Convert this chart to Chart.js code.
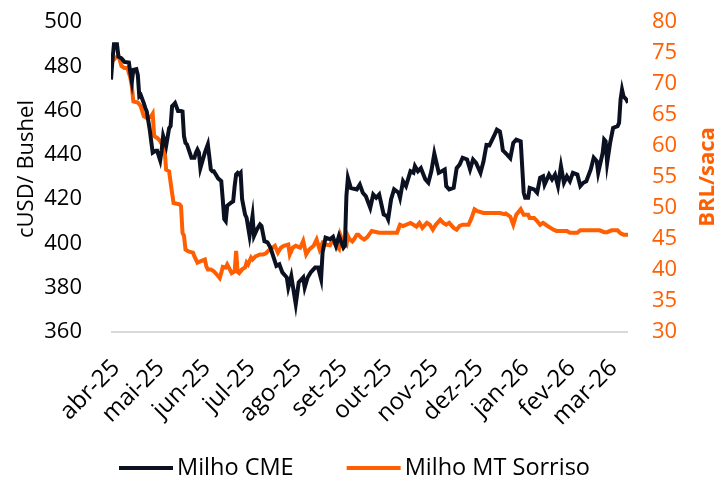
<!DOCTYPE html>
<html>
<head>
<meta charset="utf-8">
<script src="https://cdn.jsdelivr.net/npm/chart.js@4.4.1/dist/chart.umd.min.js"></script>
<style>
  html, body { margin: 0; padding: 0; background: #fff; }
</style>
</head>
<body>
<canvas id="myChart" width="721" height="490"></canvas>
<script>
// days counted from 1 Apr 2025
const monthDay = [0, 30, 61, 91, 122, 153, 183, 214, 244, 275, 306, 334];
const monthLabel = ['abr-25', 'mai-25', 'jun-25', 'jul-25', 'ago-25', 'set-25', 'out-25', 'nov-25', 'dez-25', 'jan-26', 'fev-26', 'mar-26'];

// Milho CME (cUSD/bushel)
const cmeDay = [0, 1, 2, 4, 5, 7, 9, 12, 13, 14, 15, 17, 18, 19, 20, 22, 23, 24, 26, 27, 28, 30, 31, 32, 33, 34, 35, 37, 39, 40,
  41, 42, 43, 45, 47, 48, 49, 50, 51, 54, 56, 57, 58, 59, 60, 63, 65, 67, 68, 69, 72, 74, 75, 76, 77, 78, 81, 82, 83, 84,
  85, 86, 87, 88, 90, 91, 93, 95, 96, 98, 100, 101, 103, 105, 107, 111, 113, 115, 118, 119, 121, 122, 124, 126, 129, 130, 132, 134, 137, 139,
  141, 142, 144, 147, 149, 151, 153, 156, 157, 158, 159, 161, 165, 167, 169, 171, 174, 176, 178, 180, 183, 185, 186, 188, 190, 193, 194, 196, 198, 201,
  203, 204, 206, 208, 211, 213, 215, 217, 220, 222, 224, 225, 227, 230, 232, 234, 236, 239, 241, 243, 245, 248, 250, 252, 254, 257, 259, 261, 262, 263,
  266, 268, 270, 272, 275, 277, 278, 280, 281, 284, 286, 288, 290, 291, 294, 296, 298, 300, 302, 304, 306, 308, 310, 313, 315, 317, 319, 322, 324, 326,
  327, 330, 331, 332, 333, 335, 337, 340, 341, 342, 343, 344, 346, 347];
const cmeValue = [474, 483, 490, 490, 484.4, 483.6, 482, 481.7, 477, 473, 478.4, 478.7, 476, 466.4, 467, 463.4, 461.2, 459.6, 451.4, 446, 441, 441.8, 441.8, 439.6, 437.5, 442, 448.5, 444, 452, 453,
  462, 462.6, 463.4, 459.8, 459.8, 459.6, 448.4, 445.4, 444.7, 438.7, 438.7, 441, 442.4, 441, 434, 441, 444.7, 433.4, 432.6, 432.6, 429.3, 428.2, 420, 411, 410.1, 417, 418.6, 419, 425.9, 431.2,
  431.9, 431.2, 431.9, 420, 413, 411.6, 403.4, 412.4, 403.4, 406.4, 408.6, 407.9, 401, 400.5, 398.1, 389.9, 390.6, 386.9, 384.6, 380.1, 385.3, 381, 372.6, 382.4, 384.6, 380.1, 384.6, 386.9, 389.1, 389.1,
  383.9, 395.9, 402.6, 401.9, 403, 398.9, 403.4, 398.1, 399, 421.4, 429.6, 425, 424.4, 426.6, 422.9, 421.4, 416.1, 422.1, 420.6, 422.1, 413.1, 412.4, 410.9, 420, 424.4, 422.9, 420.6, 428.1, 425.9, 432.6,
  431.9, 434.9, 432.6, 434, 428.9, 427.4, 432.6, 440.6, 431.9, 432.6, 433.4, 425.9, 424.4, 425.1, 434, 435.6, 438.7, 437.9, 433.4, 437.9, 436.4, 431.9, 437, 444.5, 444.3, 448.4, 451.4, 450.6, 446.9, 442,
  440, 438.5, 445.4, 446.9, 446.1, 422.9, 420.6, 420.6, 425.1, 424.4, 422.9, 429.6, 430.3, 426.6, 431.1, 428.9, 431.1, 425.9, 434.9, 427.4, 430.3, 428.1, 431.9, 431.1, 425.9, 427.4, 428.1, 433.4, 438.7, 437.2,
  431.9, 440.9, 446.9, 446.1, 436.4, 445.4, 452.2, 453, 454.4, 464.9, 469.4, 466.4, 464.9, 463.5];

// Milho MT Sorriso (BRL/saca)
const mtDay = [0, 1, 3, 5, 7, 9, 11, 13, 14, 15, 18, 20, 22, 24, 27, 28, 29, 31, 33, 36, 37, 39, 41, 42, 46, 47, 48, 49, 50, 52,
  55, 56, 58, 60, 63, 64, 65, 67, 69, 72, 73, 74, 75, 77, 78, 81, 83, 84, 85, 86, 88, 90, 91, 92, 94, 95, 97, 100, 102, 104,
  106, 110, 112, 114, 116, 119, 120, 122, 124, 127, 129, 131, 133, 136, 138, 140, 142, 144, 147, 149, 151, 153, 154, 155, 157, 158, 159, 160, 162, 163,
  165, 166, 168, 170, 172, 175, 180, 192, 194, 196, 201, 203, 205, 207, 209, 212, 214, 216, 218, 221, 223, 225, 227, 230, 232, 234, 236, 240, 242, 244,
  246, 250, 254, 259, 261, 264, 265, 268, 270, 272, 275, 277, 280, 281, 284, 286, 288, 290, 293, 295, 297, 299, 306, 308, 313, 315, 328, 331, 333, 336,
  340, 342, 344, 347];
const mtValue = [72.6, 73.7, 74.2, 74.6, 72.9, 72.6, 72.6, 71.0, 69.6, 67.2, 67.0, 66.4, 64.8, 64.5, 64.8, 65.2, 61.6, 61.3, 60.8, 59.4, 56.2, 55.9, 52.4, 50.8, 50.6, 50.3, 46.0, 45.5, 43.3, 43.0,
  42.8, 42.2, 41.2, 41.4, 41.7, 40.6, 40.1, 40.1, 39.8, 39.0, 38.7, 39.5, 40.5, 40.4, 40.9, 39.5, 39.8, 43.1, 39.7, 39.5, 40.1, 40.4, 41.2, 40.9, 42.0, 41.7, 42.2, 42.5, 42.5, 42.7,
  43.2, 43.9, 42.8, 43.6, 43.9, 44.1, 42.5, 43.6, 43.9, 43.6, 44.7, 42.5, 43.3, 43.9, 44.9, 43.3, 44.4, 44.1, 44.0, 45.0, 43.9, 43.4, 45.6, 45.0, 44.2, 44.0, 45.5, 45.0, 44.6, 44.9,
  45.7, 45.7, 45.2, 44.9, 45.3, 46.3, 46.0, 46.0, 47.3, 47.1, 47.6, 47.3, 47.0, 47.6, 46.8, 47.6, 47.3, 46.5, 47.3, 48.1, 47.6, 47.3, 47.6, 46.8, 46.5, 47.1, 47.3, 47.3, 48.4, 49.8,
  49.5, 49.2, 49.2, 49.2, 49.2, 49.0, 49.1, 48.6, 47.3, 48.9, 49.8, 48.9, 48.9, 48.4, 48.4, 47.9, 47.3, 47.6, 47.1, 46.8, 46.5, 46.3, 46.3, 46.0, 46.0, 46.4, 46.4, 46.1, 46.1, 46.4,
  46.4, 45.9, 45.7, 45.7];

const fontFamily = "'Open Sans', sans-serif";
const darkBlue = '#0b1120';
const orange = '#ff5f00';

// axis titles drawn by hand so the right one reads bottom to top like the left one
const axisTitles = {
  id: 'axisTitles',
  afterDraw(chart) {
    const ctx = chart.ctx;
    const mid = (chart.chartArea.top + chart.chartArea.bottom) / 2;
    ctx.save();
    ctx.textAlign = 'center';
    ctx.textBaseline = 'middle';
    ctx.translate(27, mid - 8);
    ctx.rotate(-Math.PI / 2);
    ctx.font = '22px ' + fontFamily;
    ctx.fillStyle = '#000';
    ctx.fillText('cUSD/ Bushel', 0, 0);
    ctx.restore();

    ctx.save();
    ctx.textAlign = 'center';
    ctx.textBaseline = 'middle';
    ctx.translate(708, mid);
    ctx.rotate(-Math.PI / 2);
    ctx.font = 'bold 22px ' + fontFamily;
    ctx.fillStyle = orange;
    ctx.fillText('BRL/saca', 0, 0);
    ctx.restore();
  }
};

const bottomLegend = {
  id: 'bottomLegend',
  afterDraw(chart) {
    const ctx = chart.ctx;
    ctx.save();
    ctx.font = '23.5px ' + fontFamily;
    const sample = 54, gap = 4, space = 53;
    const items = chart.data.datasets.map(ds => ({
      text: ds.label,
      color: ds.borderColor,
      w: sample + gap + ctx.measureText(ds.label).width
    }));
    const total = items.reduce((a, it) => a + it.w, 0) + space * (items.length - 1);
    let x = chart.width / 2 - total / 2 - 6;
    const y = 468;
    ctx.textBaseline = 'middle';
    items.forEach(it => {
      ctx.fillStyle = it.color;
      ctx.fillRect(x, y - 2, sample, 4);
      ctx.fillStyle = '#000';
      ctx.fillText(it.text, x + sample + gap, y);
      x += it.w + space;
    });
    ctx.restore();
  }
};

// keep the plot box fixed: no extra room taken for tick labels
const noAutoPad = (s) => {
  s.paddingTop = 0;
  s.paddingBottom = 0;
  s.paddingLeft = 0;
  s.paddingRight = 0;
};

const config = {
  type: 'line',
  data: {
    datasets: [{
      label: 'Milho CME',
      data: cmeDay.map((d, i) => ({ x: d, y: cmeValue[i] })),
      borderColor: darkBlue,
      backgroundColor: darkBlue,
      borderWidth: 4,
      pointRadius: 0,
      tension: 0,
      yAxisID: 'y'
    }, {
      label: 'Milho MT Sorriso',
      data: mtDay.map((d, i) => ({ x: d, y: mtValue[i] })),
      borderColor: orange,
      backgroundColor: orange,
      borderWidth: 4,
      pointRadius: 0,
      tension: 0,
      yAxisID: 'y1'
    }]
  },
  options: {
    responsive: false,
    animation: false,
    devicePixelRatio: 1,
    layout: { autoPadding: false, padding: { top: 22, bottom: 58, left: 0, right: 0 } },
    plugins: { legend: { display: false }, tooltip: { enabled: false } },
    scales: {
      x: {
        type: 'linear',
        min: 0,
        max: 347,
        afterBuildTicks: (s) => { s.ticks = monthDay.map(v => ({ value: v })); },
        afterFit: (s) => { s.height = 100; noAutoPad(s); },
        ticks: {
          autoSkip: false,
          minRotation: 45,
          maxRotation: 45,
          padding: 22,
          labelOffset: 5,
          color: '#000',
          font: { family: fontFamily, size: 24 },
          callback: (v) => monthLabel[monthDay.indexOf(v)]
        },
        grid: { display: false, drawTicks: false },
        border: { display: false }
      },
      y: {
        position: 'left',
        min: 360,
        max: 500,
        afterFit: (s) => { s.width = 111; noAutoPad(s); },
        ticks: { stepSize: 20, padding: 29, color: '#000', font: { family: fontFamily, size: 22 } },
        grid: {
          drawTicks: false,
          lineWidth: 2,
          color: (ctx) => ctx.tick && ctx.tick.value === 360 ? '#d9d9d9' : 'rgba(0,0,0,0)'
        },
        border: { display: false }
      },
      y1: {
        position: 'right',
        min: 30,
        max: 80,
        afterFit: (s) => { s.width = 93; noAutoPad(s); },
        ticks: { stepSize: 5, padding: 24, color: orange, font: { family: fontFamily, size: 22 } },
        grid: { display: false, drawTicks: false },
        border: { display: false }
      }
    }
  },
  plugins: [axisTitles, bottomLegend]
};

const myChart = new Chart(document.getElementById('myChart'), config);
</script>
</body>
</html>
